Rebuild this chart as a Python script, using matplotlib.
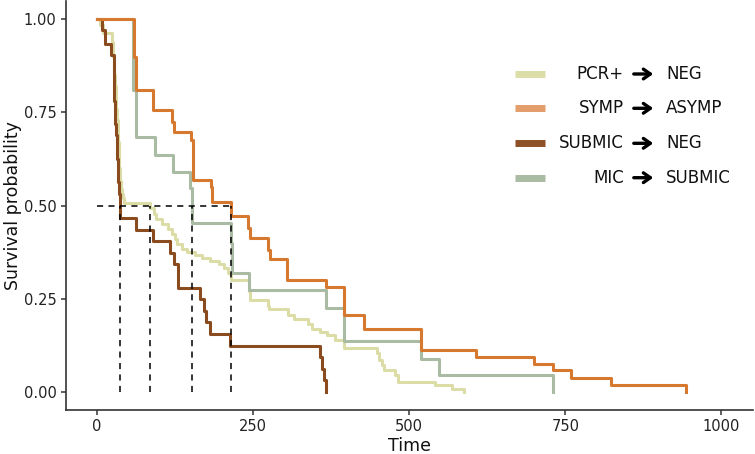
import matplotlib
matplotlib.use("Agg")
import matplotlib.pyplot as plt
from matplotlib.lines import Line2D
from matplotlib.patches import FancyArrowPatch

# ---------------- data ----------------
pcr_time = [0, 5, 9, 24, 25, 26, 27, 28, 29, 30, 31, 32, 33, 34, 35, 36, 37, 38, 40, 42, 44,
            85, 91, 95, 104, 113, 120, 125, 129, 136, 144, 157, 168, 181, 195, 204, 210, 215,
            243, 245, 274, 276, 306, 315, 338, 345, 357, 368, 381, 396, 448, 452, 456, 459,
            477, 482.5, 541, 568, 588]
pcr_surv = [1.0, 0.985, 0.962, 0.94, 0.92, 0.90, 0.88, 0.85, 0.82, 0.79, 0.76, 0.73, 0.70, 0.67,
            0.63, 0.60, 0.565, 0.545, 0.53, 0.52, 0.506,
            0.492, 0.478, 0.464, 0.450, 0.437, 0.423, 0.41, 0.397, 0.384, 0.375, 0.367, 0.358,
            0.35, 0.342, 0.333, 0.32, 0.299,
            0.27, 0.245, 0.23, 0.223, 0.205, 0.194, 0.181, 0.169, 0.16, 0.151, 0.14, 0.116,
            0.103, 0.084, 0.071, 0.057, 0.044, 0.026, 0.017, 0.008, 0.0]

symp_time = [0, 60, 62, 90, 121, 124, 150, 154, 182, 185, 214, 242, 245, 274, 277, 305, 366,
             396, 427, 519, 607, 700, 731, 759, 823, 944]
symp_surv = [1.0, 0.90, 0.81, 0.756, 0.725, 0.698, 0.675, 0.568, 0.55, 0.51, 0.471, 0.44, 0.414,
             0.38, 0.357, 0.299, 0.281, 0.207, 0.169, 0.111, 0.093, 0.073, 0.057, 0.037, 0.017, 0.0]

submic_time = [0, 8.6, 12.3, 23, 26.6, 27, 27.6, 28, 28.5, 29.5, 30.5, 31.5, 32.5, 33.5, 34.5,
               35.5, 36.5, 37, 62, 90, 116.5, 124, 130, 164.6, 171, 175, 181.7, 213, 357, 361,
               363, 366.5]
submic_surv = [1.0, 0.971, 0.935, 0.904, 0.875, 0.844, 0.812, 0.781, 0.75, 0.719, 0.688, 0.656,
               0.625, 0.594, 0.562, 0.531, 0.50, 0.467, 0.435, 0.404, 0.373, 0.342, 0.278, 0.25,
               0.217, 0.187, 0.154, 0.122, 0.092, 0.062, 0.031, 0.0]

mic_time = [0, 57, 62, 92.5, 122, 149, 153, 215, 217, 244, 366.5, 396, 519, 548, 731]
mic_surv = [1.0, 0.81, 0.684, 0.635, 0.589, 0.546, 0.453, 0.40, 0.319, 0.272, 0.225, 0.135,
            0.089, 0.046, 0.0]

medians = [37, 85, 153, 214]

legend_left = ["PCR+", "SYMP", "SUBMIC", "MIC"]
legend_right = ["NEG", "ASYMP", "NEG", "SUBMIC"]

x_ticks = [0, 250, 500, 750, 1000]
y_ticks = [0.0, 0.25, 0.50, 0.75, 1.00]
y_ticklabels = ["0.00", "0.25", "0.50", "0.75", "1.00"]

# ---------------- styling ----------------
c_pcr, c_symp, c_submic, c_mic = "#DBDCA6", "#D6792F", "#8A4B1F", "#A9BBA2"
leg_colors = ["#DCDEA8", "#E39E6A", "#8E5026", "#AABBA3"]

W, H = 755, 454
fig = plt.figure(figsize=(W / 100, H / 100), dpi=100)
ax = fig.add_axes([65.7 / W, 1 - 410.3 / H, (752.7 - 65.7) / W, (410.3 - 0.7) / H])

lw = 2.2
ax.step(pcr_time, pcr_surv, where="post", color=c_pcr, lw=lw, zorder=2)
ax.step(mic_time, mic_surv, where="post", color=c_mic, lw=lw, zorder=3)
ax.step(submic_time, submic_surv, where="post", color=c_submic, lw=lw, zorder=4)
ax.step(symp_time, symp_surv, where="post", color=c_symp, lw=lw, zorder=5)

# median lines
dash = dict(color="black", lw=1.1, linestyle=(0, (4, 3.5)), zorder=6)
ax.plot([0, max(medians)], [0.5, 0.5], **dash)
for m in medians:
    ax.plot([m, m], [0, 0.5], **dash)

ax.set_xlim(-50, 1050)
ax.set_ylim(-0.05, 1.05)
ax.set_xticks(x_ticks)
ax.set_xticklabels([str(v) for v in x_ticks])
ax.set_yticks(y_ticks)
ax.set_yticklabels(y_ticklabels)

for s in ["top", "right"]:
    ax.spines[s].set_visible(False)
for s in ["left", "bottom"]:
    ax.spines[s].set_color("#333333")
    ax.spines[s].set_linewidth(1.2)
ax.tick_params(axis="both", length=3.5, width=1.1, color="#333333",
               labelsize=10.5, labelcolor="#222222", pad=3)

ax.set_xlabel("Time", fontsize=12.5, color="#111111", labelpad=2)
ax.set_ylabel("Survival probability", fontsize=12.5, color="#111111", labelpad=1.5)

# ---------------- legend (manual) ----------------
def fx(px):
    return px / W

def fy(py):
    return 1 - py / H

rows = [74, 108.3, 143.3, 177.7]
for i, py in enumerate(rows):
    fig.add_artist(Line2D([fx(515), fx(545)], [fy(py), fy(py)], color=leg_colors[i],
                          lw=5, solid_capstyle="butt", transform=fig.transFigure))
    fig.text(fx(624), fy(py), legend_left[i], ha="right", va="center",
             fontsize=12, color="#111111")
    fig.text(fx(666), fy(py), legend_right[i], ha="left", va="center",
             fontsize=12, color="#111111")
    arr = FancyArrowPatch((fx(631), fy(py)), (fx(656), fy(py)),
                          arrowstyle="->,head_length=5,head_width=3.5",
                          lw=2.4, color="black", transform=fig.transFigure,
                          mutation_scale=1)
    fig.add_artist(arr)

fig.savefig("out.png", dpi=100)
